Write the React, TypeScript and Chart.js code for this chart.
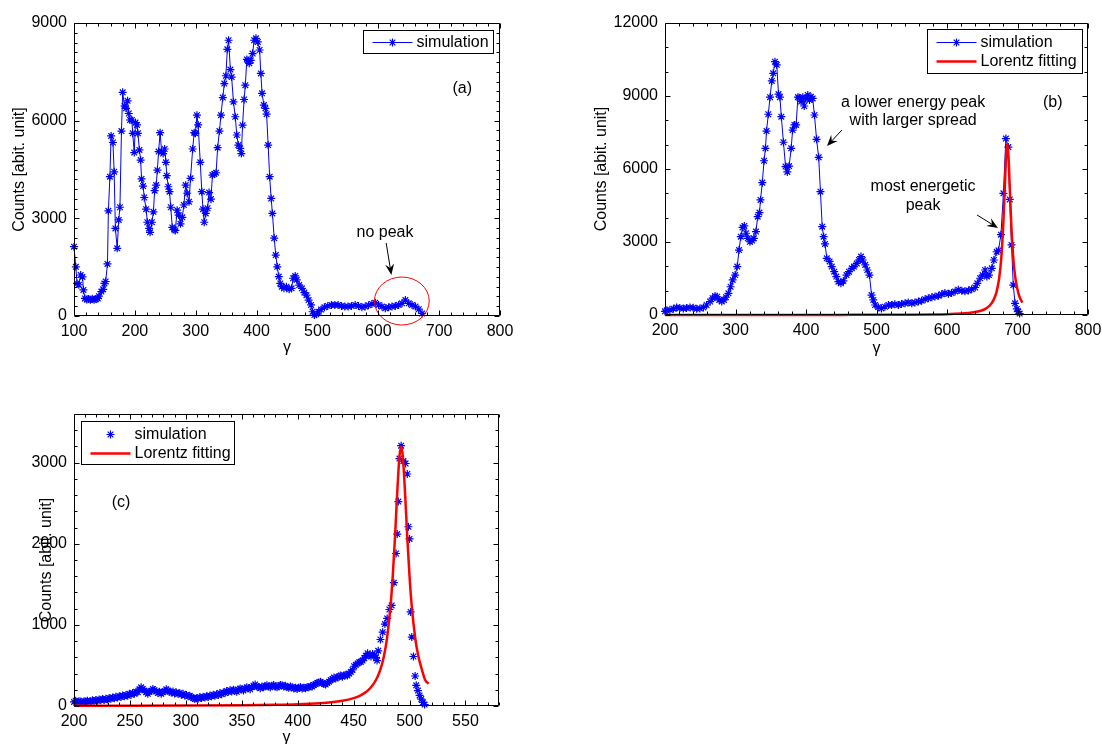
import React, { useEffect, useRef } from "react";
import { Chart, registerables } from "chart.js";

Chart.register(...registerables);

const FONT_FAMILY = '"Liberation Sans", Arial, Helvetica, sans-serif';
const BLUE = "#0000ff";
const RED = "#ff0000";
const Y_TITLE = "Counts [abit. unit]";
const X_TITLE = "\u03b3";
const STAR_R = 4;

// ---------------- Panel (a) ----------------
const A_GAMMA = [100,103,105,108,111,114,115.5,118,121,124,127,130,133,136,139,141,145,148,150,152,155,156.5,159,161,164,166,168,171,173.5,175.5,178,180,183,185.5,188,190,192,195,196.5,199,201,203.5,205,207.5,209.5,211,213.5,215.5,218.5,220.5,223.5,225,228,230.5,232.5,235,237,239,241.5,244,246.5,249,251,252.5,255,257,259,261.5,264.5,266.5,269.5,272,275,278,280.5,283.5,286,289,291.5,295,297.5,299.5,302,304,307.5,310,312,314,316.5,319.5,322,325,327.5,330.5,333.5,336,339,341.5,344.5,347,349.5,352,354,357,359,362,365,367.5,370,373,375,377,379.5,381.5,384,386,388,390.5,393.5,396,399,402,405,407,409,412,414.5,416.5,419,421.5,424,426,429,431.5,434,436.5,439,441.5,445,449,453.5,457.5,460,463.5,466,470,474.5,478.5,482,485.5,489.5,492,495,498,502,506,511.5,517,523,528.5,534,539.5,545,550.5,556,562,567.5,573,578.5,584,589.5,595,600.5,606,611.5,617,622.5,628,633.5,639,644.5,650,655.5,661,666.5,672];
const A_COUNTS = [2130,1510,1000,960,1260,1200,800,540,510,520,500,530,500,520,540,610,750,820,1000,1060,1600,3230,4280,5530,5330,4430,2690,2080,2950,3340,5680,6870,6450,6380,6610,6220,6020,6020,5610,5020,5940,5870,5610,5100,4790,4210,3990,3640,3280,2880,2690,2570,2880,3200,3850,4020,4480,5050,5630,5050,4990,5130,4720,4310,3970,3820,3340,2720,2660,2630,3250,3100,2830,3030,3410,4020,3770,3510,4230,5130,5630,5610,6170,5870,4720,3820,3280,2880,3150,3310,3790,3590,4330,4360,4400,5170,5680,6170,6710,7140,7380,8190,8470,7570,7340,6580,6120,5560,5250,5150,4990,5860,6650,7090,7880,7850,7760,7850,8060,8470,8530,8420,8170,7450,6840,6480,6380,6200,5250,4280,3610,3150,2390,1870,1510,1210,1000,900,850,900,820,850,1160,1230,1110,950,850,720,640,490,340,130,30,50,130,200,270,310,340,340,340,310,290,290,310,340,310,270,290,330,370,410,340,290,240,270,290,310,340,390,490,390,340,290,210,80];
const A_X_TICKS = [100,200,300,400,500,600,700,800];
const A_Y_TICKS = [0,3000,6000,9000];

// ---------------- Panel (b) ----------------
const B_GAMMA = [200,202.5,207,212,216.5,221,226,230.5,235.5,240,245,249.5,254.5,259,264,267.5,271,274,277,280.5,283.5,286.5,290,293,296,299.5,302.5,305,307.5,310,312.5,315,317.5,320.5,323.5,326,329,331.5,334,335.5,338,340.5,342.5,344,346.5,349,351.5,353.5,356,358.5,361,363,365,368,371,373.5,376,379,381,383.5,386,388.5,390.5,393,395.5,397.5,400,402.5,405,407,409.5,412,415,418,420.5,423,425,427,429.5,433.5,436.5,440,443,446,449.5,453,457.5,461,465,468,472,475,478,480.5,484,487,490,493,495.5,498,502.5,507,512,517,521.5,526,531,535.5,540.5,545,550,554.5,559.5,564,569,573.5,578.5,583,588,592.5,597,602,606.5,611.5,616,621,625.5,630.5,635,640,643,647,650.5,654,656.5,659.5,663.5,666.5,670.5,673,676.5,680,683.5,687,689,691.5,694,696.5,699,701,703];
const B_COUNTS = [150,180,220,260,310,290,270,290,310,300,260,270,310,410,550,690,780,750,620,550,620,730,890,1160,1440,1640,1990,2670,3220,3600,3660,3360,3150,3010,3060,3150,3430,4040,4210,4730,5440,6340,6850,7560,8250,8950,9620,9930,10410,10280,9080,8950,8150,7100,6100,5880,6120,6850,7600,7810,7810,8950,8930,8770,8950,8590,8900,9040,8840,8970,8900,8220,7220,6480,5070,3630,3220,2920,2330,2200,1990,1780,1580,1370,1300,1400,1640,1780,1920,1990,2120,2260,2400,2260,2060,1850,1640,820,620,410,320,270,340,410,410,440,410,450,480,510,480,510,550,590,650,690,730,760,790,850,900,870,900,970,1040,1000,980,1010,1060,1130,1300,1510,1640,1850,1580,1640,1920,2260,2600,2650,3300,5000,7250,6900,4750,2880,1230,480,250,140,60];
const B_FIT_GAMMA = [200,300,400,450,500,550,580,600,620,630,640,650,655,660,665,670,674,677,680,682,684,685.5,687,689,691,694,697,701,704,707];
const B_FIT_COUNTS = [1,2,3,5,7,14,23,35,59,81,121,196,263,370,557,920,1511,2345,3831,5260,6625,7050,6625,5260,3831,2345,1511,920,671,510];
const B_X_TICKS = [200,300,400,500,600,700,800];
const B_Y_TICKS = [0,3000,6000,9000,12000];

// ---------------- Panel (c) ----------------
// simulation points as [gamma, counts]
const C_SIM_POINTS: [number, number][] = [[200,50],[201.5,65],[203,45],[204.5,60],[206,55],[207.5,40],[209,60],[210.5,55],[212,65],[213.5,50],[215,60],[216.5,70],[218,55],[219.5,75],[221,65],[222.5,80],[224,70],[225.5,85],[227,75],[228.5,90],[230,80],[231.5,100],[233,90],[234.5,105],[236,95],[237.5,115],[239,105],[240.5,120],[242,110],[243.5,130],[245,120],[246.5,135],[248,125],[249.5,150],[251,140],[252.5,160],[254,150],[255.5,175],[257,170],[258.5,205],[260,230],[261.5,210],[263,190],[264.5,170],[266,150],[267.5,175],[269,185],[270.5,210],[272,195],[273.5,180],[275,160],[276.5,175],[278,150],[279.5,170],[281,185],[282.5,205],[284,190],[285.5,175],[287,165],[288.5,180],[290,155],[291.5,165],[293,150],[294.5,160],[296,140],[297.5,150],[299,130],[300.5,135],[302,120],[303.5,125],[305,110],[306.5,100],[308,85],[309.5,95],[311,90],[312.5,110],[314,100],[315.5,115],[317,105],[318.5,120],[320,110],[321.5,130],[323,120],[324.5,140],[326,125],[327.5,145],[329,135],[330.5,160],[332,145],[333.5,165],[335,160],[336.5,185],[338,175],[339.5,195],[341,180],[342.5,200],[344,190],[345.5,175],[347,200],[348.5,215],[350,205],[351.5,190],[353,215],[354.5,230],[356,220],[357.5,205],[359,235],[360.5,250],[362,265],[363.5,240],[365,235],[366.5,220],[368,240],[369.5,230],[371,245],[372.5,255],[374,240],[375.5,230],[377,250],[378.5,260],[380,240],[381.5,230],[383,245],[384.5,260],[386,255],[387.5,240],[389,250],[390.5,235],[392,225],[393.5,240],[395,230],[396.5,215],[398,225],[399.5,210],[401,225],[402.5,235],[404,215],[405.5,225],[407,220],[408.5,235],[410,230],[411.5,245],[413,240],[414.5,260],[416,270],[417.5,285],[419,290],[420.5,300],[422,285],[423.5,270],[425,265],[426.5,285],[428,300],[429.5,320],[431,330],[432.5,350],[434,340],[435.5,355],[437,365],[438.5,375],[440,360],[441.5,380],[443,385],[444.5,375],[446,400],[447.5,420],[449,445],[450.5,490],[452,510],[453.5,525],[455,540],[456.5,545],[458,560],[459.5,590],[461,620],[462.5,650],[464,625],[465.5,610],[467,640],[468.5,625],[470,600],[471,560],[472,680],[474,820],[476,910],[478,1010],[480,1080],[482,1190],[484,1240],[486,1520],[488,1880],[489,2120],[490,2520],[491,3050],[492.5,3210],[494.5,3020],[496.5,2990],[498,2860],[499,2210],[500,2060],[501,1160],[502,850],[503.5,610],[505,370],[506,255],[507.5,190],[509,130],[510.5,85],[512,45],[513.5,18]];
const C_GAMMA = C_SIM_POINTS.map((p) => p[0]);
const C_COUNTS = C_SIM_POINTS.map((p) => p[1]);
const C_FIT_GAMMA = [200,250,300,350,380,400,420,430,440,450,455,460,465,470,474,477,480,483,485,487,489,491,492.5,494,496,498,500,502,505,508,511,514,517];
const C_FIT_COUNTS = [2,3,5,9,14,21,34,45,64,97,123,162,222,320,452,607,848,1230,1600,2081,2628,3077,3200,3077,2628,2081,1600,1230,848,607,452,320,274];
const C_X_TICKS = [200,250,300,350,400,450,500,550];
const C_Y_TICKS = [0,1000,2000,3000];

// ---------------- types ----------------
interface SeriesDef {
  label: string;
  x: number[];
  y: number[];
  color: string;
  line: boolean;
  lineWidth: number;
  marker: boolean;
  smooth: boolean;
  order: number;
}
interface NoteDef { x: number; y: number; text: string; }
interface ArrowDef { x1: number; y1: number; x2: number; y2: number; }
interface EllipseDef { cx: number; cy: number; rx: number; ry: number; }
interface PanelDef {
  key: string;
  box: { left: number; top: number; width: number; height: number };
  area: { left: number; top: number; right: number; bottom: number };
  xAxisHeight: number;
  xRange: [number, number];
  yRange: [number, number];
  xTicks: number[];
  yTicks: number[];
  xMinor: number;
  yMinor: number;
  series: SeriesDef[];
  legend: { corner: "tl" | "tr"; dx: number; dy: number; w: number; h: number; rows: number[] };
  notes: NoteDef[];
  arrows: ArrowDef[];
  ellipses: EllipseDef[];
  yTitleX: number;
  xTitleDy: number;
}

const PANEL_A: PanelDef = {
  key: "a",
  box: { left: 0, top: 0, width: 551, height: 372 },
  area: { left: 74, top: 23, right: 500, bottom: 316 },
  xAxisHeight: 40,
  xRange: [100, 800],
  yRange: [0, 9000],
  xTicks: A_X_TICKS,
  yTicks: A_Y_TICKS,
  xMinor: 20,
  yMinor: 300,
  series: [
    { label: "simulation", x: A_GAMMA, y: A_COUNTS, color: BLUE, line: true, lineWidth: 1, marker: true, smooth: false, order: 1 },
  ],
  legend: { corner: "tr", dx: 7, dy: 7, w: 130, h: 23, rows: [12] },
  notes: [
    { x: 738, y: 7000, text: "(a)" },
    { x: 611, y: 2548, text: "no peak" },
  ],
  arrows: [{ x1: 613, y1: 2241, x2: 621.5, y2: 1259 }],
  ellipses: [{ cx: 638.7, cy: 460, rx: 45, ry: 737 }],
  yTitleX: 20,
  xTitleDy: 32,
};

const PANEL_B: PanelDef = {
  key: "b",
  box: { left: 551, top: 0, width: 571, height: 372 },
  area: { left: 114, top: 23, right: 537, bottom: 315 },
  xAxisHeight: 40,
  xRange: [200, 800],
  yRange: [0, 12000],
  xTicks: B_X_TICKS,
  yTicks: B_Y_TICKS,
  xMinor: 20,
  yMinor: 1000,
  series: [
    { label: "simulation", x: B_GAMMA, y: B_COUNTS, color: BLUE, line: true, lineWidth: 1, marker: true, smooth: false, order: 1 },
    { label: "Lorentz fitting", x: B_FIT_GAMMA, y: B_FIT_COUNTS, color: RED, line: true, lineWidth: 2.5, marker: false, smooth: true, order: 0 },
  ],
  legend: { corner: "tr", dx: 6, dy: 6, w: 155, h: 44, rows: [13, 32] },
  notes: [
    { x: 750, y: 8713, text: "(b)" },
    { x: 552, y: 8713, text: "a lower energy peak" },
    { x: 552, y: 7973, text: "with larger spread" },
    { x: 566, y: 5261, text: "most energetic" },
    { x: 566, y: 4480, text: "peak" },
  ],
  arrows: [
    { x1: 451, y1: 7604, x2: 429.8, y2: 6946 },
    { x1: 642.6, y1: 4110, x2: 672.3, y2: 3576 },
  ],
  ellipses: [],
  yTitleX: 51,
  xTitleDy: 34,
};

const PANEL_C: PanelDef = {
  key: "c",
  box: { left: 0, top: 372, width: 551, height: 372 },
  area: { left: 74, top: 42, right: 499, bottom: 334 },
  xAxisHeight: 30,
  xRange: [200, 580],
  yRange: [0, 3600],
  xTicks: C_X_TICKS,
  yTicks: C_Y_TICKS,
  xMinor: 10,
  yMinor: 200,
  series: [
    { label: "simulation", x: C_GAMMA, y: C_COUNTS, color: BLUE, line: false, lineWidth: 1, marker: true, smooth: false, order: 1 },
    { label: "Lorentz fitting", x: C_FIT_GAMMA, y: C_FIT_COUNTS, color: RED, line: true, lineWidth: 2.5, marker: false, smooth: true, order: 0 },
  ],
  legend: { corner: "tl", dx: 7, dy: 7, w: 153, h: 43, rows: [13, 32] },
  notes: [{ x: 242, y: 2503, text: "(c)" }],
  arrows: [],
  ellipses: [],
  yTitleX: 47,
  xTitleDy: 32,
};

const PANELS = [PANEL_A, PANEL_B, PANEL_C];

function drawStar(ctx: CanvasRenderingContext2D, x: number, y: number, r: number) {
  const d = r * Math.SQRT1_2;
  ctx.beginPath();
  ctx.moveTo(x - r, y);
  ctx.lineTo(x + r, y);
  ctx.moveTo(x, y - r);
  ctx.lineTo(x, y + r);
  ctx.moveTo(x - d, y - d);
  ctx.lineTo(x + d, y + d);
  ctx.moveTo(x - d, y + d);
  ctx.lineTo(x + d, y - d);
  ctx.stroke();
}

function drawArrow(ctx: CanvasRenderingContext2D, x1: number, y1: number, x2: number, y2: number) {
  const ang = Math.atan2(y2 - y1, x2 - x1);
  const ux = Math.cos(ang), uy = Math.sin(ang);
  const px = -uy, py = ux;
  const hl = 11, hw = 4.5, notch = 7;
  ctx.strokeStyle = "#000";
  ctx.fillStyle = "#000";
  ctx.lineWidth = 1;
  ctx.beginPath();
  ctx.moveTo(x1, y1);
  ctx.lineTo(x2 - ux * notch, y2 - uy * notch);
  ctx.stroke();
  ctx.beginPath();
  ctx.moveTo(x2, y2);
  ctx.lineTo(x2 - ux * hl + px * hw, y2 - uy * hl + py * hw);
  ctx.lineTo(x2 - ux * notch, y2 - uy * notch);
  ctx.lineTo(x2 - ux * hl - px * hw, y2 - uy * hl - py * hw);
  ctx.closePath();
  ctx.fill();
}

function makePlugin(p: PanelDef) {
  return {
    id: "matlabDecor" + p.key,
    afterDatasetsDraw(chart: any) {
      const ctx: CanvasRenderingContext2D = chart.ctx;
      const xs = chart.scales.x;
      const ys = chart.scales.y;
      const ca = chart.chartArea;
      const X = (v: number) => xs.getPixelForValue(v);
      const Y = (v: number) => ys.getPixelForValue(v);
      ctx.save();

      // ellipses
      ctx.strokeStyle = RED;
      ctx.lineWidth = 1;
      for (const e of p.ellipses) {
        const cx = X(e.cx), cy = Y(e.cy);
        const rx = Math.abs(X(e.cx + e.rx) - cx);
        const ry = Math.abs(Y(e.cy + e.ry) - cy);
        ctx.beginPath();
        ctx.ellipse(cx, cy, rx, ry, 0, 0, Math.PI * 2);
        ctx.stroke();
      }

      // arrows
      for (const a of p.arrows) drawArrow(ctx, X(a.x1), Y(a.y1), X(a.x2), Y(a.y2));

      // notes
      ctx.fillStyle = "#000";
      ctx.font = `16px ${FONT_FAMILY}`;
      ctx.textAlign = "center";
      ctx.textBaseline = "middle";
      for (const n of p.notes) ctx.fillText(n.text, X(n.x), Y(n.y));

      // axes box
      const L = Math.round(ca.left) + 0.5;
      const T = Math.round(ca.top) + 0.5;
      const R = Math.round(ca.right) - 0.5;
      const B = Math.round(ca.bottom) - 0.5;
      ctx.strokeStyle = "#000";
      ctx.lineWidth = 1;
      ctx.beginPath();
      ctx.rect(L, T, R - L, B - T);
      ctx.stroke();

      // ticks (inward, all four sides)
      const major = 5, minor = 3;
      ctx.beginPath();
      const [x0, x1] = p.xRange;
      const [y0, y1] = p.yRange;
      const nx = Math.round((x1 - x0) / p.xMinor);
      for (let i = 0; i <= nx; i++) {
        const v = x0 + i * p.xMinor;
        const isMajor = p.xTicks.indexOf(v) >= 0;
        const len = isMajor ? major : minor;
        const px = Math.round(X(v)) + 0.5;
        ctx.moveTo(px, B);
        ctx.lineTo(px, B - len);
        ctx.moveTo(px, T);
        ctx.lineTo(px, T + len);
      }
      const ny = Math.round((y1 - y0) / p.yMinor);
      for (let i = 0; i <= ny; i++) {
        const v = y0 + i * p.yMinor;
        const isMajor = p.yTicks.indexOf(v) >= 0;
        const len = isMajor ? major : minor;
        const py = Math.round(Y(v)) + 0.5;
        ctx.moveTo(L, py);
        ctx.lineTo(L + len, py);
        ctx.moveTo(R, py);
        ctx.lineTo(R - len, py);
      }
      ctx.stroke();

      // legend
      const lg = p.legend;
      const bx = Math.round(lg.corner === "tr" ? ca.right - lg.dx - lg.w : ca.left + lg.dx) + 0.5;
      const by = Math.round(ca.top + lg.dy) + 0.5;
      ctx.fillStyle = "#fff";
      ctx.fillRect(bx, by, lg.w, lg.h);
      ctx.strokeStyle = "#000";
      ctx.lineWidth = 1;
      ctx.strokeRect(bx, by, lg.w, lg.h);
      chart.data.datasets.forEach((ds: any, i: number) => {
        const s = p.series[i];
        const ry = by + lg.rows[i];
        if (s.line) {
          ctx.strokeStyle = s.color;
          ctx.lineWidth = s.lineWidth;
          ctx.beginPath();
          ctx.moveTo(bx + 9, ry);
          ctx.lineTo(bx + 49, ry);
          ctx.stroke();
        }
        if (s.marker) {
          ctx.strokeStyle = s.color;
          ctx.lineWidth = 1.2;
          drawStar(ctx, bx + 29, ry, STAR_R);
        }
        ctx.fillStyle = "#000";
        ctx.font = `16px ${FONT_FAMILY}`;
        ctx.textAlign = "left";
        ctx.textBaseline = "middle";
        ctx.fillText(ds.label, bx + 53, ry);
      });

      // axis titles
      ctx.fillStyle = "#000";
      ctx.font = `16px ${FONT_FAMILY}`;
      ctx.textAlign = "center";
      ctx.textBaseline = "middle";
      ctx.fillText(X_TITLE, (ca.left + ca.right) / 2, ca.bottom + p.xTitleDy);
      ctx.save();
      ctx.translate(p.yTitleX, (ca.top + ca.bottom) / 2);
      ctx.rotate(-Math.PI / 2);
      ctx.fillText(Y_TITLE, 0, 0);
      ctx.restore();

      ctx.restore();
    },
  };
}

function buildConfig(p: PanelDef): any {
  const pad = {
    left: 0,
    top: p.area.top,
    right: p.box.width - p.area.right,
    bottom: p.box.height - p.area.bottom - p.xAxisHeight,
  };
  const tickFont = { family: FONT_FAMILY, size: 16 };
  return {
    type: "line",
    data: {
      datasets: p.series.map((s) => ({
        label: s.label,
        data: s.x.map((v, i) => ({ x: v, y: s.y[i] })),
        borderColor: s.color,
        backgroundColor: s.color,
        borderWidth: s.lineWidth,
        showLine: s.line,
        pointStyle: "star",
        pointRadius: s.marker ? STAR_R : 0,
        pointHoverRadius: s.marker ? STAR_R : 0,
        pointBorderColor: s.color,
        pointBackgroundColor: s.color,
        pointBorderWidth: 1.2,
        cubicInterpolationMode: s.smooth ? "monotone" : "default",
        tension: 0,
        fill: false,
        clip: false,
        order: s.order,
      })),
    },
    options: {
      responsive: false,
      maintainAspectRatio: false,
      animation: false,
      devicePixelRatio: 1,
      events: [],
      layout: { padding: pad },
      plugins: {
        legend: { display: false },
        tooltip: { enabled: false },
        title: { display: false },
      },
      scales: {
        x: {
          type: "linear",
          min: p.xRange[0],
          max: p.xRange[1],
          afterFit: (sc: any) => {
            sc.height = p.xAxisHeight;
          },
          afterBuildTicks: (sc: any) => {
            sc.ticks = p.xTicks.map((v) => ({ value: v }));
          },
          ticks: {
            autoSkip: false,
            maxRotation: 0,
            minRotation: 0,
            padding: 6,
            color: "#000",
            font: tickFont,
            callback: (v: any) => String(v),
          },
          grid: { display: false, drawTicks: false },
          border: { display: false },
        },
        y: {
          type: "linear",
          min: p.yRange[0],
          max: p.yRange[1],
          afterFit: (sc: any) => {
            sc.width = p.area.left;
          },
          afterBuildTicks: (sc: any) => {
            sc.ticks = p.yTicks.map((v) => ({ value: v }));
          },
          ticks: {
            autoSkip: false,
            padding: 7,
            color: "#000",
            font: tickFont,
            callback: (v: any) => String(v),
          },
          grid: { display: false, drawTicks: false },
          border: { display: false },
        },
      },
    },
    plugins: [makePlugin(p)],
  };
}

function PanelChart({ def }: { def: PanelDef }) {
  const ref = useRef<HTMLCanvasElement | null>(null);
  useEffect(() => {
    const canvas = ref.current;
    if (!canvas) return;
    const chart = new Chart(canvas, buildConfig(def));
    return () => {
      chart.destroy();
    };
  }, [def]);
  return (
    <canvas
      ref={ref}
      width={def.box.width}
      height={def.box.height}
      style={{
        position: "absolute",
        left: def.box.left,
        top: def.box.top,
        width: def.box.width,
        height: def.box.height,
      }}
    />
  );
}

export default function App() {
  return (
    <div
      style={{
        position: "absolute",
        left: 0,
        top: 0,
        width: 1102,
        height: 744,
        background: "#fff",
        overflow: "hidden",
      }}
    >
      {PANELS.map((p) => (
        <PanelChart key={p.key} def={p} />
      ))}
    </div>
  );
}
